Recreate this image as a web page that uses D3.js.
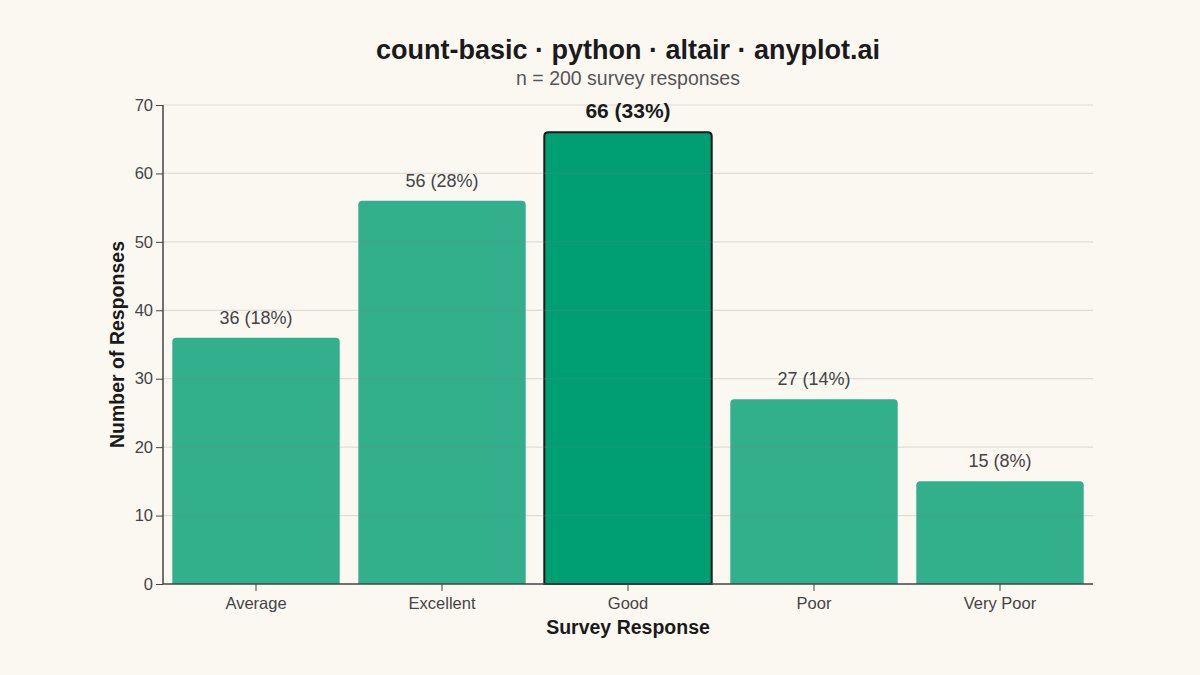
<!DOCTYPE html>
<head>
<script src="https://d3js.org/d3.v7.min.js"></script>
<style>
  html, body { margin: 0; padding: 0; background-color: #FAF8F1; }
  * { font-family: "Liberation Sans", Arial, sans-serif; }
  .tick text { fill: #444; font-size: 16.5px; }
  .axis path, .axis line { stroke: #444; }
</style>
</head>
<body>
<svg width="1200" height="675"></svg>
<script>
var categories = ["Average", "Excellent", "Good", "Poor", "Very Poor"],
    counts = [36, 56, 66, 27, 15],
    yTicks = [0, 10, 20, 30, 40, 50, 60, 70],
    total = 200;

var svg = d3.select("svg"),
    margin = {top: 105, right: 107, bottom: 91, left: 163},
    width = 1200 - margin.left - margin.right,
    height = 675 - margin.top - margin.bottom;

var x = d3.scaleBand().domain(categories).range([0, width]).paddingInner(0.1).paddingOuter(0.05),
    y = d3.scaleLinear().domain([0, 70]).range([height, 0]);

var maxCount = d3.max(counts);

var g = svg.append("g").attr("transform", "translate(" + margin.left + "," + margin.top + ")");

// title
svg.append("text").attr("x", margin.left + width / 2).attr("y", 59)
    .attr("text-anchor", "middle").attr("font-size", 27).attr("font-weight", "bold")
    .attr("fill", "#1a1a1a").text("count-basic · python · altair · anyplot.ai");
svg.append("text").attr("x", margin.left + width / 2).attr("y", 85)
    .attr("text-anchor", "middle").attr("font-size", 19.5)
    .attr("fill", "#555").text("n = " + total + " survey responses");

// bars
var data = categories.map(function(c, i) { return {cat: c, n: counts[i]}; });

g.selectAll(".bar").data(data).enter().append("path")
    .attr("class", "bar")
    .attr("d", function(d) {
      var x0 = x(d.cat), x1 = x0 + x.bandwidth(), y0 = y(d.n), y1 = y(0), r = 4;
      return "M" + x0 + "," + y1 + "V" + (y0 + r) + "Q" + x0 + "," + y0 + " " + (x0 + r) + "," + y0 +
             "H" + (x1 - r) + "Q" + x1 + "," + y0 + " " + x1 + "," + (y0 + r) + "V" + y1 + "Z";
    })
    .attr("fill", "#009E73")
    .attr("fill-opacity", function(d) { return d.n === maxCount ? 1 : 0.8; })
    .attr("stroke", function(d) { return d.n === maxCount ? "#1a1a1a" : "none"; })
    .attr("stroke-width", 2);

// grid (drawn over bars, as in the reference)
g.append("g").selectAll("line").data(yTicks.slice(1)).enter().append("line")
    .attr("x1", 0).attr("x2", width)
    .attr("y1", function(d) { return y(d); }).attr("y2", function(d) { return y(d); })
    .attr("stroke", "#8a8578").attr("stroke-opacity", 0.22).attr("stroke-width", 1.2);

// labels
g.selectAll(".lbl").data(data).enter().append("text")
    .attr("x", function(d) { return x(d.cat) + x.bandwidth() / 2; })
    .attr("y", function(d) { return y(d.n) - 14; })
    .attr("text-anchor", "middle")
    .attr("font-size", function(d) { return d.n === maxCount ? 21 : 18; })
    .attr("font-weight", function(d) { return d.n === maxCount ? "bold" : "normal"; })
    .attr("fill", function(d) { return d.n === maxCount ? "#1a1a1a" : "#444"; })
    .text(function(d) { return d.n + " (" + Math.round(d.n / total * 100) + "%)"; });

// axes
g.append("g").attr("class", "axis")
    .call(d3.axisLeft(y).tickValues(yTicks).tickSize(7).tickPadding(3))
    .call(function(a) { a.select(".domain").attr("d", "M0," + height + "V0").attr("stroke-width", 1.5); });

g.append("g").attr("class", "axis").attr("transform", "translate(0," + height + ")")
    .call(d3.axisBottom(x).tickSize(7).tickPadding(6))
    .call(function(a) { a.select(".domain").attr("d", "M0,0H" + width).attr("stroke-width", 1.5); });

// axis titles
svg.append("text").attr("x", margin.left + width / 2).attr("y", 634)
    .attr("text-anchor", "middle").attr("font-size", 19.5).attr("font-weight", "bold")
    .attr("fill", "#1a1a1a").text("Survey Response");
svg.append("text").attr("transform", "translate(124," + (margin.top + height / 2) + ") rotate(-90)")
    .attr("text-anchor", "middle").attr("font-size", 19.5).attr("font-weight", "bold")
    .attr("fill", "#1a1a1a").text("Number of Responses");
</script>
</body>
